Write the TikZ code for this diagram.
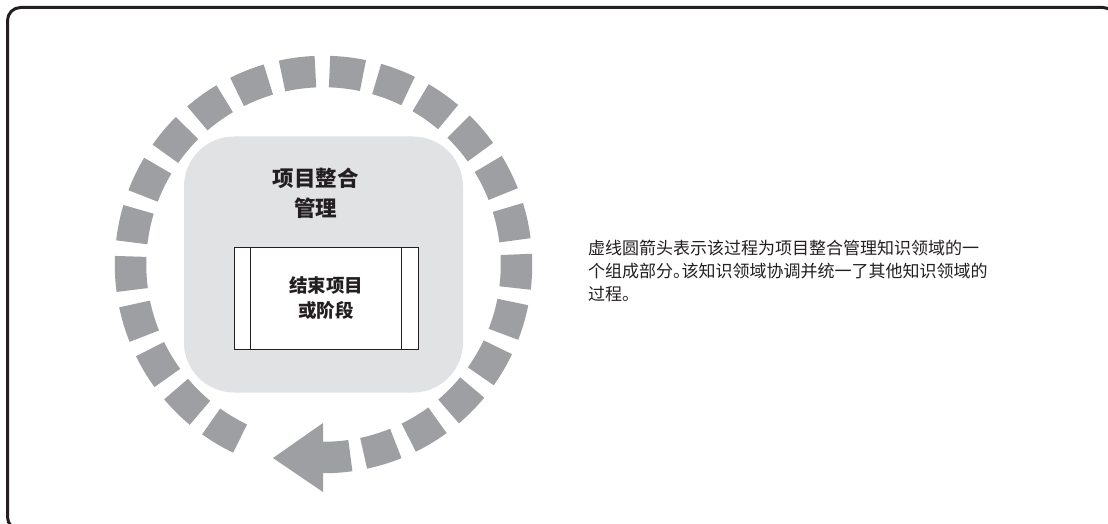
\documentclass[tikz,border=0pt]{standalone}
\usepackage{fontspec}
\newfontfamily\cjk{Noto Sans CJK SC}
\usetikzlibrary{positioning}
\definecolor{ringgray}{RGB}{157,159,162}
\definecolor{panelgray}{RGB}{225,226,228}
\definecolor{inkdark}{RGB}{35,31,32}

\begin{document}
\begin{tikzpicture}[
  x=1pt, y=-1pt,
  ring/.style={draw=ringgray, line width=31.5pt},
  panel/.style={fill=panelgray, rounded corners=50pt, minimum width=279pt, minimum height=256pt, inner sep=0pt},
  procbox/.style={draw=inkdark, line width=1pt, fill=white, minimum width=184pt, minimum height=102pt,
    align=center, inner sep=0pt, text=inkdark, font=\cjk\bfseries\fontsize{18.5}{25}\selectfont},
  heading/.style={align=center, inner sep=0pt, text=inkdark, font=\cjk\bfseries\fontsize{21.5}{30}\selectfont},
  note/.style={align=left, inner sep=0pt, text=inkdark, font=\cjk\fontsize{17}{23}\selectfont}
]
\useasboundingbox (0,0) rectangle (1108,524);
% outer frame, cut off at the right and bottom
\begin{scope}
  \clip (0,0) rectangle (1108,524);
  \draw[inkdark, line width=3pt, rounded corners=13pt] (7.5,7.5) rectangle (1116,530);
\end{scope}

\coordinate (hub) at (323.5,264.5);

% dashed ring
\foreach \k in {0,...,22} {
  \pgfmathsetmacro{\ang}{-(239.4-14.2*\k)}
  \draw[ring] (hub) ++(\ang-5:193) arc[start angle=\ang-5, end angle=\ang+5, radius=193];
}
\draw[ring] (hub) ++(82:193) arc[start angle=82, end angle=90.3, radius=193];
\fill[ringgray] (323,423) -- (323,492) -- (273,458) -- cycle;

\node[panel] (domain) at (hub) {};
\node[heading] (title) at (315.5,193) {项目整合\\管理};
\node[procbox] (proc) at (326,298) {结束项目\\或阶段};
\draw[inkdark, line width=1pt] ([xshift=17pt]proc.north west) -- ([xshift=17pt]proc.south west);
\draw[inkdark, line width=1pt] ([xshift=-17pt]proc.north east) -- ([xshift=-17pt]proc.south east);

\node[note, anchor=west] (expl) at (588,271) {虚线圆箭头表示该过程为项目整合管理知识领域的一\\个组成部分。\kern-0.5em该知识领域协调并统一了其他知识领域的\\过程。};
\end{tikzpicture}
\end{document}
